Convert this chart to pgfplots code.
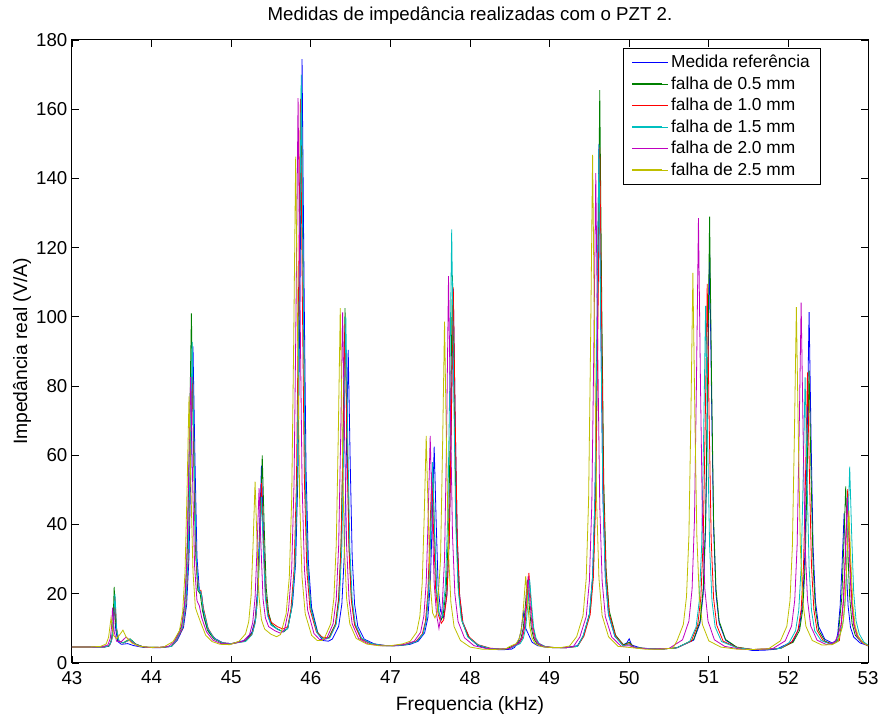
\documentclass[border=0pt]{standalone}
\usepackage{fontspec}
\setmainfont{Liberation Sans}
\usepackage{pgfplots}
\pgfplotsset{compat=1.18}
\definecolor{cB}{rgb}{0,0,1}
\definecolor{cG}{rgb}{0,0.5,0}
\definecolor{cR}{rgb}{1,0,0}
\definecolor{cC}{rgb}{0,0.75,0.75}
\definecolor{cM}{rgb}{0.75,0,0.75}
\definecolor{cY}{rgb}{0.75,0.75,0}
\begin{document}
\begin{tikzpicture}
\begin{axis}[
  at={(0pt,0pt)}, anchor=south west,
  scale only axis, width=597pt, height=467.25pt,
  xmin=43, xmax=53, ymin=0, ymax=180,
  xtick={43,44,...,53}, ytick={0,20,...,180},
  tick align=inside, xtick pos=both, ytick pos=both,
  major tick length=5.5pt,
  axis line style={line width=0.75pt},
  every tick/.style={black, line width=0.6pt},
  /pgf/number format/assume math mode=true,
  ticklabel style={font=\fontsize{14}{16}\selectfont},
  xticklabel style={yshift=-2.5pt},
  yticklabel style={xshift=0pt},
  title={Medidas de impedância realizadas com o PZT 2.},
  title style={at={(axis description cs:0.5,1.019)}, anchor=base, inner sep=0pt, font=\fontsize{14}{16}\selectfont},
  xlabel={Frequencia (kHz)},
  xlabel style={at={(axis description cs:0.5,-0.077)}, anchor=base, inner sep=0pt, font=\fontsize{14.5}{16}\selectfont},
  ylabel={Impedância real (V/A)},
  ylabel style={at={(axis description cs:-0.0565,0.5)}, anchor=base, inner sep=0pt, font=\fontsize{14.5}{16}\selectfont},
  legend style={at={(0.692,0.987)}, anchor=north west, draw=black, line width=0.75pt, fill=white,
    font=\fontsize{13}{15}\selectfont, inner xsep=6pt, inner ysep=3pt, row sep=1.2pt},
  legend cell align=left,
  legend image code/.code={\draw[#1, line width=1pt] (0pt,0.3pt) -- (22.5pt,0.3pt); \path (0pt,0pt) -- (27pt,0pt);},
  every axis plot/.append style={line width=0.6pt},
]
% Medida referencia
\addplot[cB] coordinates {
(43.00,4.6)(43.20,4.6)(43.40,4.6)(43.46,4.8)(43.49,6.0)(43.51,9.0)(43.53,17.0)(43.55,9.5)(43.575,6.2)(43.62,5.4)(43.70,5.6)(43.78,5.0)(43.9,4.5)(44.1,4.4)(44.25,4.8)
(44.32,6.5)(44.40,10.2)(44.44,16.8)(44.47,30.6)(44.495,58.5)(44.52,91.5)(44.545,58.5)(44.57,30.6)(44.60,21.0)(44.63,19.5)(44.66,13.0)(44.72,9.0)(44.80,7.0)(44.90,5.8)(45.00,5.6)
(45.18,6.6)(45.26,8.9)(45.30,12.5)(45.33,21)(45.355,37.5)(45.38,57)(45.405,37.5)(45.43,21)(45.46,14)(45.50,11)(45.58,9.8)(45.65,9.0)(45.71,10.0)
(45.77,17)(45.81,29)(45.84,56)(45.865,110)(45.89,174.5)(45.915,110)(45.94,56)(45.97,29)(46.01,16)(46.09,8.5)(46.15,6.5)(46.22,6.3)
(46.27,6.9)(46.35,10.6)(46.39,17)(46.42,30.7)(46.445,58)(46.47,90.5)(46.495,58)(46.52,30.7)(46.55,17)(46.59,10.6)(46.67,6.9)(46.8,5.5)(46.95,5.0)(47.1,5.0)(47.25,5.4)
(47.35,6.3)(47.43,8.7)(47.47,13)(47.50,22.3)(47.525,40.7)(47.55,62.5)(47.575,40.7)(47.60,22)(47.63,15)
(47.67,13)(47.71,20)(47.74,36)(47.765,69)(47.79,108)(47.815,69)(47.84,36)(47.87,19.4)(47.91,11.7)(47.99,7.3)(48.1,5.0)(48.25,4.0)(48.40,3.8)(48.52,4.0)
(48.56,4.5)(48.61,6.5)(48.64,9)(48.67,14.6)(48.70,10)(48.74,8)(48.78,6)(48.85,5)(49.0,4.5)(49.2,4.5)(49.35,5.0)
(49.42,7.7)(49.50,14)(49.54,25)(49.57,48)(49.595,95)(49.62,150)(49.645,95)(49.67,48)(49.70,25)(49.74,14)(49.82,7.7)(49.92,5.2)(49.97,5.8)(50.00,7.0)(50.03,5.2)(50.15,4.3)(50.4,4.0)(50.6,4.4)
(50.81,6.6)(50.89,11.5)(50.93,20)(50.96,39)(50.985,76)(51.01,118)(51.035,76)(51.06,39)(51.09,20)(51.13,11.5)(51.21,6.6)(51.35,4.5)(51.55,3.6)(51.70,3.7)(51.85,4.0)
(52.06,6.3)(52.14,10.5)(52.18,17.8)(52.21,33.4)(52.235,64.5)(52.26,101.4)(52.285,64.5)(52.31,33.4)(52.34,17.8)(52.38,10.5)(52.46,6.8)(52.55,5.8)(52.60,6.5)
(52.62,8.5)(52.65,16.5)(52.675,28.7)(52.70,43.2)(52.725,28.7)(52.75,16.5)(52.78,10.3)(52.82,7.5)(52.90,5.8)(53.00,5.0)
};
% falha 0.5
\addplot[cG] coordinates {
(43.00,4.6)(43.20,4.6)(43.40,4.6)(43.47,5.0)(43.50,7.0)(43.515,11)(43.53,22.0)(43.55,11)(43.58,6.5)(43.64,5.8)(43.73,7.0)(43.80,5.5)(43.9,4.6)(44.1,4.5)(44.25,4.8)
(44.30,6.7)(44.38,10.9)(44.42,18.1)(44.45,33.5)(44.475,64.4)(44.50,101)(44.525,64.4)(44.55,33.5)(44.58,21)(44.61,20)(44.64,15)(44.70,9.5)(44.78,7.0)(44.88,5.8)(45.00,5.5)
(45.19,6.5)(45.27,8.9)(45.31,13)(45.34,21.7)(45.365,39.2)(45.39,60)(45.415,39.2)(45.44,21.7)(45.47,14.5)(45.51,11.2)(45.58,9.8)(45.66,9.0)(45.71,10.0)
(45.76,16)(45.80,28)(45.83,53)(45.855,105)(45.88,166)(45.905,105)(45.93,53)(45.96,28)(46.00,16)(46.08,9.0)(46.15,7.2)(46.20,7.0)
(46.23,7.5)(46.31,11.3)(46.35,18.7)(46.38,34.3)(46.405,65.5)(46.43,102.5)(46.455,65.5)(46.48,34.3)(46.51,18.7)(46.55,11.3)(46.63,7.1)(46.75,5.6)(46.9,5.0)(47.05,5.0)(47.2,5.3)
(47.33,6.3)(47.41,8.5)(47.45,12.5)(47.48,20.5)(47.505,37)(47.53,56.3)(47.555,37)(47.58,21)(47.61,14.5)(47.64,12.5)
(47.66,13.5)(47.70,21)(47.73,38)(47.755,71.3)(47.78,112)(47.805,71.3)(47.83,37)(47.86,20)(47.90,12)(47.98,7.4)(48.1,5.2)(48.25,4.2)(48.40,4.0)(48.45,4.1)
(48.52,4.7)(48.60,5.6)(48.64,7.1)(48.67,10.2)(48.695,16.5)(48.72,24)(48.745,16.5)(48.77,10.2)(48.80,7.1)(48.84,5.6)(48.92,4.7)(49.05,4.4)(49.2,4.4)(49.35,4.8)
(49.43,8)(49.51,15)(49.55,27)(49.58,52.8)(49.605,104.3)(49.63,165.5)(49.655,104.3)(49.68,52.8)(49.71,27)(49.75,15)(49.83,8)(49.93,5.2)(50.00,6.0)(50.06,4.6)(50.2,4.2)(50.4,4.0)(50.6,4.4)
(50.81,6.8)(50.89,12.1)(50.93,21.5)(50.96,41.5)(50.985,81.5)(51.01,129)(51.035,81.5)(51.06,41.5)(51.09,21.5)(51.13,12.1)(51.21,6.8)(51.35,4.6)(51.55,3.9)(51.75,4.0)(51.9,4.2)
(52.06,6)(52.14,9.4)(52.18,15.4)(52.21,28.3)(52.235,54)(52.26,84.5)(52.285,54)(52.31,28.3)(52.34,15.4)(52.38,9.4)(52.46,6.3)(52.55,5.5)(52.62,6.5)
(52.64,11.4)(52.67,18.8)(52.695,33.5)(52.72,51)(52.745,33.5)(52.77,18.8)(52.80,11.4)(52.84,8)(52.92,6)(53.00,5.0)
};
% falha 1.0
\addplot[cR] coordinates {
(43.00,4.6)(43.20,4.6)(43.40,4.6)(43.47,5.0)(43.50,6.8)(43.52,10)(43.54,19)(43.56,10)(43.59,6.3)(43.65,5.8)(43.72,6.6)(43.80,5.4)(43.9,4.6)(44.1,4.5)(44.25,4.8)
(44.31,6.4)(44.39,10)(44.43,16.3)(44.46,29.6)(44.485,56.3)(44.51,88)(44.535,56.3)(44.56,29.6)(44.59,21)(44.62,21)(44.65,16)(44.71,10)(44.79,7.0)(44.89,5.8)(45.00,5.6)
(45.18,6.3)(45.26,8.3)(45.30,11.8)(45.33,19.3)(45.355,34.3)(45.38,52)(45.405,34.3)(45.43,20)(45.46,14.5)(45.50,11.8)(45.58,10.5)(45.65,9.8)(45.71,10.5)
(45.75,15.5)(45.79,27)(45.82,52.4)(45.845,103)(45.87,163)(45.895,103)(45.92,52.4)(45.95,27)(45.99,15.5)(46.07,9.0)(46.14,7.5)(46.20,7.3)
(46.23,7.2)(46.31,11)(46.35,18)(46.38,32.9)(46.405,62.7)(46.43,98)(46.455,62.7)(46.48,32.9)(46.51,18)(46.55,11)(46.63,7)(46.75,5.6)(46.9,5.1)(47.05,5.0)(47.2,5.4)
(47.32,6.2)(47.40,8.3)(47.44,12)(47.47,20)(47.495,36)(47.52,55)(47.545,36)(47.57,20.5)(47.60,14)(47.64,11.5)
(47.67,12.5)(47.71,19.5)(47.74,36)(47.765,69.2)(47.79,108.5)(47.815,69.2)(47.84,36)(47.87,19.5)(47.91,11.7)(47.99,7.5)(48.1,5.3)(48.25,4.3)(48.40,4.0)(48.50,4.2)
(48.54,4.8)(48.62,5.7)(48.66,7.3)(48.69,10.8)(48.715,17.8)(48.74,26)(48.765,17.8)(48.79,10.8)(48.82,7.3)(48.86,5.7)(48.94,4.8)(49.05,4.5)(49.2,4.4)(49.35,4.8)
(49.43,7.7)(49.51,14)(49.55,24.7)(49.58,47.9)(49.605,94)(49.63,149)(49.655,94)(49.68,47.9)(49.71,24.7)(49.75,14)(49.83,7.7)(49.93,5.0)(50.00,5.6)(50.06,4.5)(50.2,4.2)(50.4,4.0)(50.6,4.4)
(50.78,6.3)(50.86,10.9)(50.90,18.8)(50.93,35.6)(50.955,69.4)(50.98,109.5)(51.005,69.4)(51.03,35.6)(51.06,18.8)(51.10,10.9)(51.18,6.3)(51.35,4.5)(51.55,3.9)(51.75,4.1)(51.9,4.2)
(52.04,6)(52.12,9.4)(52.16,15.4)(52.19,28.1)(52.215,53.7)(52.24,84)(52.265,53.7)(52.29,28.1)(52.32,15.4)(52.36,9.4)(52.44,6.3)(52.55,5.4)(52.64,6.5)
(52.665,11.3)(52.695,18.6)(52.72,33)(52.745,50.2)(52.77,33)(52.795,18.6)(52.825,11.3)(52.865,7.9)(52.94,5.8)(53.00,5.0)
};
% falha 1.5
\addplot[cC] coordinates {
(43.00,4.6)(43.20,4.6)(43.40,4.6)(43.47,5.0)(43.50,6.8)(43.52,10.5)(43.54,20)(43.56,10)(43.59,6.3)(43.65,5.8)(43.73,6.8)(43.80,5.4)(43.9,4.6)(44.1,4.5)(44.25,4.8)
(44.31,6.5)(44.39,10.3)(44.43,16.9)(44.46,31.1)(44.485,59.3)(44.51,92.8)(44.535,59.3)(44.56,31.1)(44.59,21)(44.62,20.5)(44.65,15.5)(44.71,9.8)(44.79,7.0)(44.89,5.8)(45.00,5.6)
(45.18,6.2)(45.26,8.1)(45.30,11.3)(45.33,18.1)(45.355,31.8)(45.38,48)(45.405,31.8)(45.43,18.5)(45.46,13.5)(45.50,11)(45.58,9.8)(45.65,9.0)(45.71,10.0)
(45.76,15.7)(45.80,28.1)(45.83,54.5)(45.855,107.3)(45.88,170)(45.905,107.3)(45.93,54.5)(45.96,28.1)(46.00,15.7)(46.08,8.6)(46.14,7.2)(46.20,7.0)
(46.24,7.3)(46.32,11.2)(46.36,18.3)(46.39,33.5)(46.415,63.9)(46.44,100)(46.465,63.9)(46.49,33.5)(46.52,18.3)(46.56,11.2)(46.64,7.1)(46.75,5.7)(46.9,5.1)(47.05,5.0)(47.2,5.3)
(47.33,6.2)(47.41,8.4)(47.45,12.4)(47.48,20.9)(47.505,37.9)(47.53,58)(47.555,37.9)(47.58,21.5)(47.61,14.5)(47.63,13)
(47.65,13.5)(47.69,22)(47.72,41.5)(47.745,79.6)(47.77,125.3)(47.795,79.6)(47.82,41.1)(47.85,21.8)(47.89,12.8)(47.97,7.6)(48.1,5.2)(48.25,4.2)(48.40,4.0)(48.50,4.2)
(48.55,4.7)(48.63,5.6)(48.67,7.1)(48.70,10.2)(48.725,16.5)(48.75,24)(48.775,16.5)(48.80,10.2)(48.83,7.1)(48.87,5.6)(48.95,4.7)(49.05,4.5)(49.2,4.4)(49.35,4.8)
(49.42,7.7)(49.50,13.9)(49.54,24.8)(49.57,48.1)(49.595,94.5)(49.62,149.7)(49.645,94.5)(49.67,48.1)(49.70,24.8)(49.74,13.9)(49.82,7.7)(49.92,5.0)(50.00,5.3)(50.06,4.5)(50.2,4.2)(50.4,4.0)(50.6,4.4)
(50.76,6.2)(50.84,10.4)(50.88,17.9)(50.91,33.8)(50.935,65.5)(50.96,103.2)(50.985,65.5)(51.01,33.8)(51.04,17.9)(51.08,10.4)(51.16,6.2)(51.35,4.4)(51.55,3.9)(51.75,4.0)(51.9,4.2)
(52.01,5.9)(52.09,9.3)(52.13,15.2)(52.16,27.7)(52.185,52.7)(52.21,82.5)(52.235,52.7)(52.26,27.7)(52.29,15.2)(52.33,9.3)(52.41,6.5)(52.52,5.5)(52.62,6.2)
(52.65,8.4)(52.69,12.2)(52.72,20.5)(52.745,37)(52.77,56.7)(52.795,37)(52.82,20.5)(52.85,12.2)(52.89,8.4)(52.95,6)(53.00,5.2)
};
% falha 2.0
\addplot[cM] coordinates {
(43.00,4.6)(43.20,4.6)(43.38,4.7)(43.45,5.2)(43.48,7.0)(43.495,10)(43.51,16)(43.53,9)(43.56,6.3)(43.62,6.2)(43.68,7.5)(43.74,6.2)(43.82,5.0)(43.95,4.5)(44.1,4.5)(44.22,4.9)
(44.29,6.3)(44.37,9.7)(44.41,15.5)(44.44,28)(44.465,53)(44.49,82.7)(44.515,53)(44.54,28)(44.57,18)(44.60,16.5)(44.63,13)(44.69,9)(44.77,6.6)(44.87,5.6)(45.00,5.5)
(45.15,6.3)(45.23,8.2)(45.27,11.6)(45.30,18.9)(45.325,33.3)(45.35,50.5)(45.375,33.3)(45.40,18.5)(45.43,13)(45.47,10.5)(45.55,9.3)(45.62,8.6)(45.67,9.6)
(45.72,15.3)(45.76,27.1)(45.79,52.5)(45.815,103)(45.84,163.2)(45.865,103)(45.89,52.5)(45.92,27.1)(45.96,15.3)(46.04,8.5)(46.11,6.8)(46.17,6.8)
(46.20,7.1)(46.28,11.3)(46.32,18.5)(46.35,33.9)(46.375,64.7)(46.40,101.3)(46.425,64.7)(46.45,33.9)(46.48,18.5)(46.52,11.3)(46.60,7.1)(46.72,5.5)(46.88,5.0)(47.03,5.0)(47.18,5.4)
(47.30,6.3)(47.38,8.9)(47.42,13.5)(47.45,23.2)(47.475,42.6)(47.50,65.6)(47.525,42.6)(47.55,23)(47.58,14)
(47.61,10)(47.65,16)(47.68,30)(47.705,64)(47.73,111.8)(47.755,71)(47.78,37)(47.81,20)(47.85,12)(47.93,7.3)(48.05,5.0)(48.2,4.2)(48.35,4.0)(48.5,4.2)
(48.53,4.7)(48.61,5.7)(48.65,7.2)(48.68,10.5)(48.705,17.2)(48.73,25)(48.755,17.2)(48.78,10.5)(48.81,7.2)(48.85,5.7)(48.93,4.7)(49.05,4.4)(49.2,4.4)(49.3,4.8)
(49.38,7.5)(49.46,13.4)(49.50,23.7)(49.53,45.6)(49.555,89.5)(49.58,141.5)(49.605,89.5)(49.63,45.6)(49.66,23.7)(49.70,13.4)(49.78,7.5)(49.90,4.8)(50.00,5.0)(50.1,4.3)(50.3,4.0)(50.5,4.2)
(50.67,6.7)(50.75,12.1)(50.79,21.4)(50.82,41.4)(50.845,81.2)(50.87,128.5)(50.895,81.2)(50.92,41.4)(50.95,21.4)(50.99,12.1)(51.07,6.7)(51.2,4.8)(51.4,4.0)(51.6,3.9)(51.8,4.1)
(51.96,6.4)(52.04,10.7)(52.08,18.2)(52.11,34.2)(52.135,66.2)(52.16,104.1)(52.185,66.2)(52.21,34.2)(52.24,18.2)(52.28,10.7)(52.36,6.6)(52.48,5.3)(52.58,6.0)
(52.62,7.8)(52.66,11)(52.69,18)(52.715,31.7)(52.74,48)(52.765,31.7)(52.79,18)(52.82,11)(52.86,7.8)(52.93,5.8)(53.00,5.0)
};
% falha 2.5
\addplot[cY] coordinates {
(43.00,4.6)(43.20,4.6)(43.36,4.8)(43.43,5.5)(43.46,7.5)(43.49,13)(43.52,8)(43.56,7)(43.61,8.5)(43.64,9.5)(43.68,7.5)(43.75,5.8)(43.85,4.8)(44.0,4.5)(44.15,4.6)
(44.27,6.2)(44.35,9.3)(44.39,14.7)(44.42,26.3)(44.445,49.5)(44.47,77)(44.495,49.5)(44.52,26.3)(44.55,16)(44.58,14)(44.62,11.5)(44.68,8)(44.76,6.2)(44.86,5.4)(44.98,5.3)
(45.10,6.3)(45.18,8.4)(45.22,11.9)(45.25,19.4)(45.275,34.4)(45.30,52.4)(45.325,34.4)(45.35,19)(45.38,12.5)(45.42,9.8)(45.50,8.3)(45.57,7.6)(45.62,8.2)
(45.69,14.2)(45.73,24.8)(45.76,47.4)(45.785,92.6)(45.81,146.3)(45.835,92.6)(45.86,47.4)(45.89,24.8)(45.93,14.2)(46.01,8)(46.08,6.5)(46.14,6.5)
(46.17,7.1)(46.25,11.3)(46.29,18.7)(46.32,34.3)(46.345,65.5)(46.37,102.5)(46.395,65.5)(46.42,34.3)(46.45,18.7)(46.49,11.3)(46.57,7.1)(46.70,5.5)(46.85,5.0)(47.0,5.0)(47.15,5.5)
(47.25,6.3)(47.33,8.9)(47.37,13.5)(47.40,23.2)(47.425,42.6)(47.45,65.6)(47.475,42.6)(47.50,23)(47.53,14.5)(47.56,13)
(47.59,15)(47.63,30)(47.655,62)(47.68,98.6)(47.705,62)(47.73,32)(47.76,17.5)(47.80,10.5)(47.88,6.5)(48.0,4.6)(48.15,4.0)(48.3,3.9)(48.45,4.1)
(48.50,4.8)(48.58,5.6)(48.62,7.2)(48.65,10.5)(48.675,17.2)(48.70,25.1)(48.725,17.2)(48.75,10.5)(48.78,7.2)(48.82,5.6)(48.90,4.7)(49.0,4.5)(49.15,4.5)(49.25,4.9)
(49.34,7.6)(49.42,13.7)(49.46,24.4)(49.49,47.2)(49.515,92.7)(49.54,146.8)(49.565,92.7)(49.59,47.2)(49.62,24.4)(49.66,13.7)(49.74,7.6)(49.86,4.8)(50.0,4.5)(50.2,4.0)(50.4,4.0)(50.55,4.3)
(50.60,6.4)(50.68,11.1)(50.72,19.2)(50.75,36.6)(50.775,71.4)(50.80,112.7)(50.825,71.4)(50.85,36.6)(50.88,19.2)(50.92,11.1)(51.00,6.4)(51.15,4.6)(51.35,4.0)(51.55,3.9)(51.75,4.1)
(51.90,6.4)(51.98,10.6)(52.02,18)(52.05,33.8)(52.075,65.3)(52.10,102.8)(52.125,65.3)(52.15,33.8)(52.18,18)(52.22,10.6)(52.30,6.5)(52.42,5.2)(52.55,5.3)(52.62,6.2)
(52.64,7.5)(52.68,10.5)(52.71,16.7)(52.735,29)(52.76,44)(52.785,29)(52.81,16.7)(52.84,10.5)(52.88,7.5)(52.94,5.8)(53.00,5.0)
};
\legend{Medida referência, falha de 0.5 mm, falha de 1.0 mm, falha de 1.5 mm, falha de 2.0 mm, falha de 2.5 mm}
\end{axis}
\pgfresetboundingbox
\path (-54pt,-42.75pt) rectangle (607.5pt,497.25pt);
\end{tikzpicture}
\end{document}
